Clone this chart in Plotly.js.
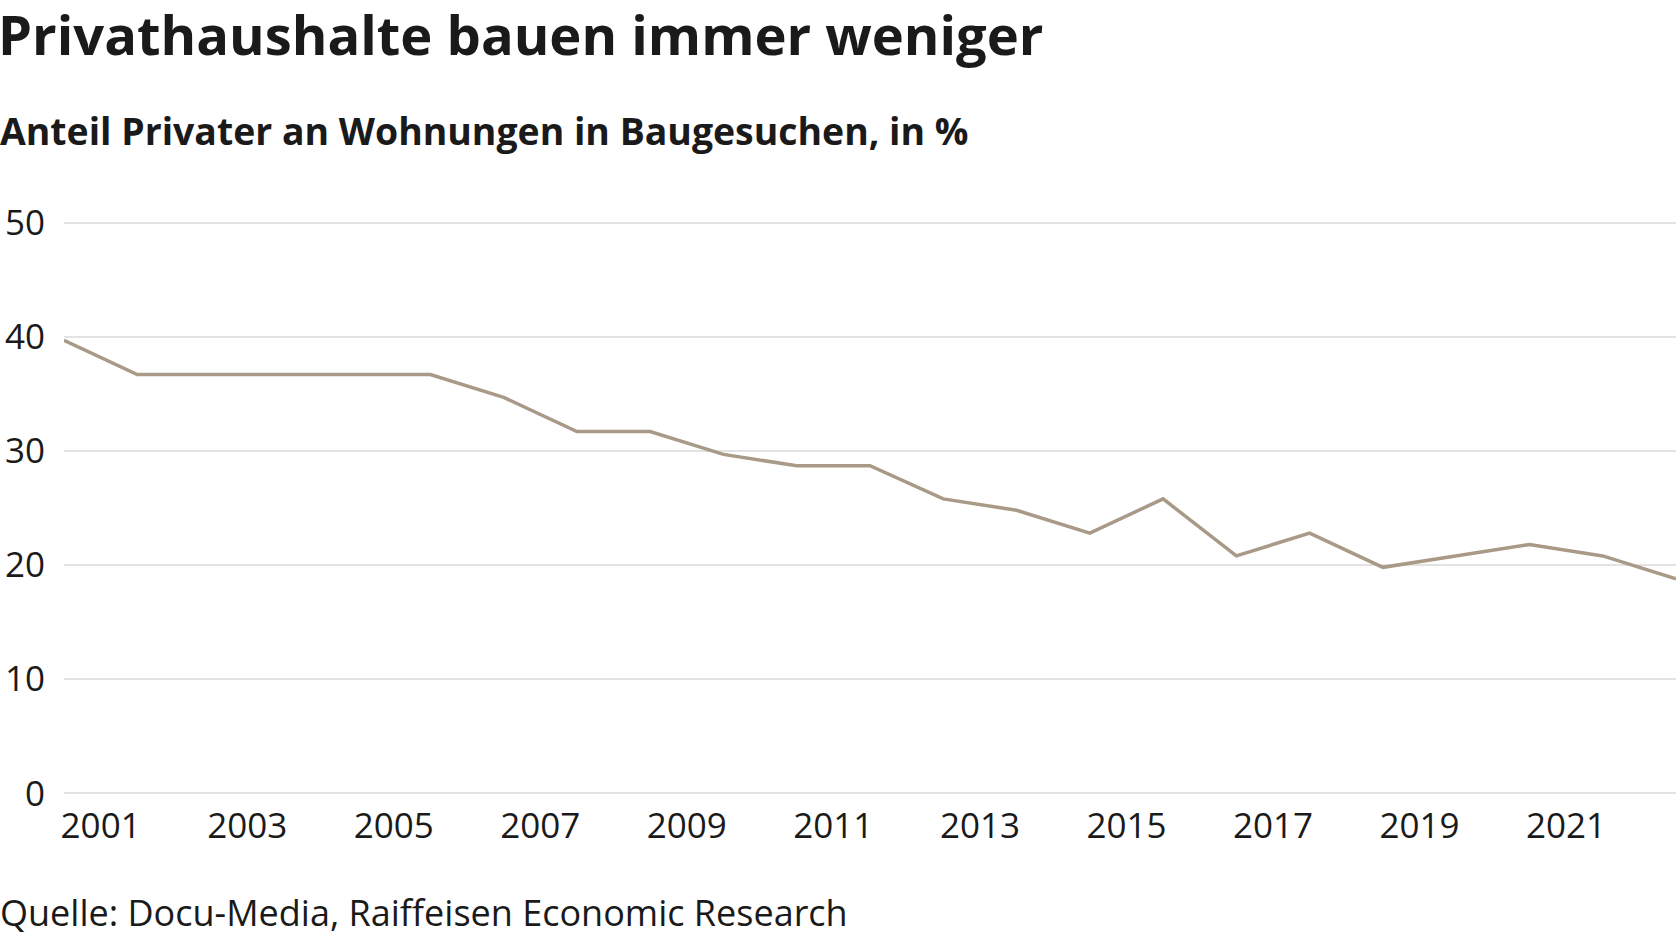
<!DOCTYPE html>
<html>
<head>
<meta charset="utf-8">
<script src="https://cdn.plot.ly/plotly-3.0.1.min.js"></script>
<style>
html,body{margin:0;padding:0;background:#fff;}
#chart{width:1676px;height:940px;}
</style>
</head>
<body>
<div id="chart"></div>
<script>
// Data: share of private households in dwellings of building applications, in %
var years = [2001,2002,2003,2004,2005,2006,2007,2008,2009,2010,2011,2012,2013,2014,2015,2016,2017,2018,2019,2020,2021,2022,2023];
var shares = [39.7,36.7,36.7,36.7,36.7,36.7,34.7,31.7,31.7,29.7,28.7,28.7,25.8,24.8,22.8,25.8,20.8,22.8,19.8,20.8,21.8,20.8,18.8];
var tickYears = [2001,2003,2005,2007,2009,2011,2013,2015,2017,2019,2021];
var yTicks = [0,10,20,30,40,50];

var FONT = "Open Sans, Noto Sans, sans-serif";
var TXT = "#1a1a1a";

var trace = {
  x: years,
  y: shares,
  type: "scatter",
  mode: "lines",
  line: {color: "#a99a88", width: 3.5},
  hoverinfo: "x+y"
};

var W = 1676, H = 940;
var mL = 64, mR = 0, mT = 221, mB = 145;
var plotW = W - mL - mR, plotH = H - mT - mB;
function px2paperX(px){ return (px - mL) / plotW; }
function px2paperY(py){ return (H - mB - py) / plotH; }

var layout = {
  width: W, height: H,
  margin: {l: mL, r: mR, t: mT, b: mB, pad: 0},
  paper_bgcolor: "#fff",
  plot_bgcolor: "#fff",
  showlegend: false,
  font: {family: FONT, color: TXT},
  xaxis: {
    range: [2001, 2023],
    tickvals: tickYears.map(function(y){ return y + 0.5; }),
    ticktext: tickYears.map(String),
    showgrid: false,
    zeroline: false,
    showline: false,
    ticks: "",
    ticklabelstandoff: 7,
    tickfont: {family: FONT, size: 35, color: TXT},
    fixedrange: true
  },
  yaxis: {
    range: [-0.15, 50.15],
    tickvals: yTicks,
    ticktext: yTicks.map(String),
    showgrid: true,
    gridcolor: "#e3e3e3",
    gridwidth: 2,
    zeroline: false,
    showline: false,
    ticks: "",
    ticklabelstandoff: 18,
    tickfont: {family: FONT, size: 35, color: TXT},
    fixedrange: true
  },
  annotations: [
    {
      text: "<b>Privathaushalte bauen immer weniger</b>",
      xref: "paper", yref: "paper",
      x: px2paperX(-3), y: px2paperY(-4),
      xanchor: "left", yanchor: "top",
      borderpad: 0,
      showarrow: false,
      font: {family: FONT, size: 54.3, color: TXT}
    },
    {
      text: "<b>Anteil Privater an Wohnungen in Baugesuchen, in %</b>",
      xref: "paper", yref: "paper",
      x: px2paperX(-2), y: px2paperY(130),
      xanchor: "left", yanchor: "middle",
      showarrow: false,
      font: {family: FONT, size: 37.4, color: TXT}
    },
    {
      text: "Quelle: Docu-Media, Raiffeisen Economic Research",
      xref: "paper", yref: "paper",
      x: px2paperX(-2), y: px2paperY(912),
      xanchor: "left", yanchor: "middle",
      showarrow: false,
      font: {family: FONT, size: 36, color: TXT}
    }
  ]
};

Plotly.newPlot("chart", [trace], layout, {displayModeBar: false});
</script>
</body>
</html>
